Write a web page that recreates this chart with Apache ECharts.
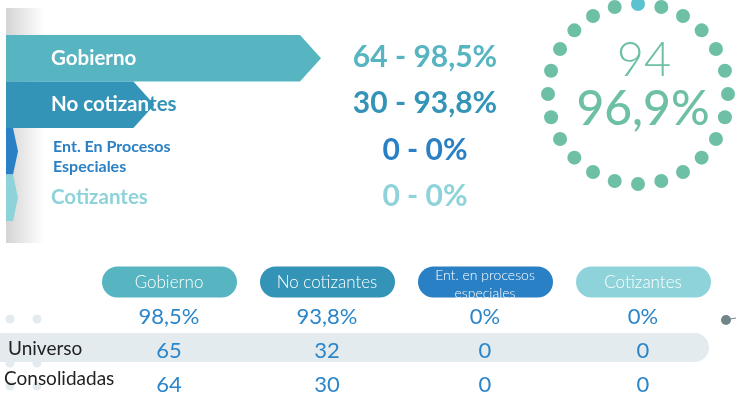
<!DOCTYPE html>
<html>
<head>
    <meta charset="utf-8">
    <title>Consolidación</title>
    <script src="https://cdn.jsdelivr.net/npm/echarts@6/dist/echarts.min.js"></script>
    <style>
        html, body {margin:0;padding:0;background:#fff;}
        #chart {width:736px;height:402px;}
    </style>
</head>
<body>
<div id="chart"></div>
<script>
    // datos
    const cats = ['Gobierno', 'No cotizantes', 'Ent. En Procesos Especiales', 'Cotizantes'];
    const topLabels = ['Gobierno', 'No cotizantes', 'Ent. En Procesos\nEspeciales', 'Cotizantes'];
    const pillLabels = ['Gobierno', 'No cotizantes', 'Ent. en procesos\nespeciales', 'Cotizantes'];
    const universo = [65, 32, 0, 0];
    const consolidadas = [64, 30, 0, 0];
    const porcentaje = [98.5, 93.8, 0, 0];
    const rowLabels = ['Universo', 'Consolidadas'];
    const totalConsolidadas = 94;
    const totalPorcentaje = 96.9;
    const ringDots = 24;
    const colors = ['#56b5c1', '#3394b8', '#2a80c5', '#8fd3da'];

    const FONT = 'Lato, "Noto Sans", sans-serif';
    const fmtPct = v => String(v).replace('.', ',') + '%';

    // cuantas letras caen dentro de la flecha (por el centro de cada letra)
    const measure = document.createElement('canvas').getContext('2d');
    function splitIndex(text, font, edge) {
        measure.font = font;
        for (let k = 0; k < text.length; k++) {
            const a = measure.measureText(text.slice(0, k)).width;
            const b = measure.measureText(text.slice(0, k + 1)).width;
            if ((a + b) / 2 > edge) return k;
        }
        return text.length;
    }

    const chart = echarts.init(document.getElementById('chart'), null, {renderer: 'canvas'});

    //flechas
    function renderArrow(params, api) {
        const v = api.value(0);
        const i = api.value(1);
        const cs = params.coordSys;
        const c = api.coord([v, i]);
        const h = api.size([0, 1])[1];
        const x0 = cs.x;
        const x1 = Math.max(c[0], x0 + 7);
        const tip = v > 0 ? 21 : 5;
        const yT = c[1] - h / 2, yB = c[1] + h / 2;
        const children = [{
            type: 'polygon',
            shape: {points: [[x0, yT], [x1, yT], [x1 + tip, c[1]], [x1, yB], [x0, yB]]},
            style: {fill: colors[i]}
        }];
        const lbl = topLabels[i];
        const tx = x0 + 45;
        if (lbl.indexOf('\n') >= 0) {
            children.push({
                type: 'text', x: tx + 2, y: c[1] + 6,
                style: {text: lbl, fill: colors[i], font: 'bold 16px ' + FONT, lineHeight: 20,
                    align: 'left', verticalAlign: 'middle'}
            });
        } else {
            // blanco dentro de la flecha, color de la barra fuera de ella
            const font = 'bold 20.5px ' + FONT;
            const n = v > 0 ? splitIndex(lbl, font, x1 + tip * 0.75 - tx) : 0;
            children.push({
                type: 'text', x: tx, y: c[1],
                style: {
                    text: (n > 0 ? '{w|' + lbl.slice(0, n) + '}' : '') + (n < lbl.length ? '{c|' + lbl.slice(n) + '}' : ''),
                    align: 'left', verticalAlign: 'middle',
                    rich: {
                        w: {fill: '#fff', font: font},
                        c: {fill: colors[i], font: font}
                    }
                }
            });
        }
        // valor - porcentaje
        children.push({
            type: 'text', x: x0 + 419, y: c[1] - 1,
            style: {text: consolidadas[i] + ' - ' + fmtPct(porcentaje[i]), fill: colors[i],
                font: 'bold 30px ' + FONT, align: 'center', verticalAlign: 'middle'}
        });
        return {type: 'group', children: children};
    }

    // tabla inferior
    const tableData = [];
    for (let r = 0; r < 4; r++) for (let c = 0; c < cats.length; c++) tableData.push([c, r]);

    function renderTable(params, api) {
        const c = api.value(0), r = api.value(1);
        const p = api.coord([c, r]);
        if (r === 0) {
            const two = pillLabels[c].indexOf('\n') >= 0;
            return {
                type: 'group', children: [{
                    type: 'rect',
                    shape: {x: p[0] - 67, y: p[1] - 15.5, width: 135, height: 31, r: 15.5},
                    style: {fill: colors[c]}
                }, {
                    type: 'text', x: p[0], y: p[1] + (two ? 2 : 1),
                    style: {text: pillLabels[c], fill: '#fff', font: (two ? '300 14px ' : '300 17px ') + FONT,
                        lineHeight: 18, align: 'center', verticalAlign: 'middle'}
                }]
            };
        }
        const txt = r === 1 ? fmtPct(porcentaje[c]) : String(r === 2 ? universo[c] : consolidadas[c]);
        return {
            type: 'text', x: p[0], y: p[1] + 1,
            style: {text: txt, fill: '#2b86c9', font: '400 22px ' + FONT, align: 'center', verticalAlign: 'middle'}
        };
    }

    // anillo de puntos
    const ringCats = [];
    const ringData = [];
    for (let k = 0; k < ringDots; k++) {
        ringCats.push(String(k));
        ringData.push({value: [1, k], itemStyle: {color: k === 0 ? '#5cc2d0' : '#6dbfa5'}});
    }

    const option = {
        animation: false,
        grid: [
            {left: 6, top: 35, width: 323.4, height: 186},
            {left: 90, top: 265, width: 632, height: 136}
        ],
        xAxis: [
            {gridIndex: 0, type: 'value', min: 4, max: 70, show: false},
            {gridIndex: 1, type: 'category', data: cats, show: false}
        ],
        yAxis: [
            {gridIndex: 0, type: 'category', data: cats, inverse: true, show: false},
            {gridIndex: 1, type: 'category', data: ['pill', 'pct', 'uni', 'con'], inverse: true, show: false}
        ],
        polar: {center: [638, 94], radius: 90},
        angleAxis: {type: 'category', data: ringCats, boundaryGap: false, startAngle: 90, clockwise: true, show: false},
        radiusAxis: {min: 0, max: 1, show: false},
        graphic: [
            // fondo gris a la izquierda
            {type: 'rect', z: -10, shape: {x: 6, y: 8, width: 38, height: 235},
                style: {fill: new echarts.graphic.LinearGradient(0, 0, 1, 0, [
                    {offset: 0, color: '#d4d4d4'}, {offset: 1, color: '#ffffff'}])}},
            // franja de la fila universo
            {type: 'rect', z: -5, shape: {x: -20, y: 333, width: 729, height: 29, r: 14.5},
                style: {fill: '#e3ebee'}},
            {type: 'circle', z: -6, shape: {cx: 10, cy: 319, r: 4.5}, style: {fill: '#e3ebee'}},
            {type: 'circle', z: -6, shape: {cx: 37, cy: 319, r: 4.5}, style: {fill: '#e3ebee'}},
            {type: 'circle', z: -6, shape: {cx: 10, cy: 363, r: 4.5}, style: {fill: '#e3ebee'}},
            {type: 'circle', z: -6, shape: {cx: 37, cy: 363, r: 4.5}, style: {fill: '#e3ebee'}},
            {type: 'circle', z: -6, shape: {cx: 10, cy: 386, r: 4.5}, style: {fill: '#e3ebee'}},
            {type: 'circle', z: -6, shape: {cx: 37, cy: 386, r: 4.5}, style: {fill: '#e3ebee'}},
            {type: 'circle', z: 5, shape: {cx: 726, cy: 320, r: 5}, style: {fill: '#6f8588'}},
            {type: 'line', z: 5, shape: {x1: 730, y1: 319, x2: 736, y2: 318}, style: {stroke: '#6f8588', lineWidth: 1}},
            // etiquetas de filas
            {type: 'text', z: 10, x: 8, y: 349,
                style: {text: rowLabels[0], fill: '#222', font: '400 19px ' + FONT, verticalAlign: 'middle'}},
            {type: 'text', z: 10, x: 4, y: 379,
                style: {text: rowLabels[1], fill: '#222', font: '400 19px ' + FONT, verticalAlign: 'middle'}},
            // totales dentro del anillo
            {type: 'text', z: 10, x: 644, y: 61,
                style: {text: String(totalConsolidadas), fill: '#6dbfa5', font: '300 47px ' + FONT,
                    align: 'center', verticalAlign: 'middle'}},
            {type: 'text', z: 10, x: 643, y: 110,
                style: {text: fmtPct(totalPorcentaje), fill: '#6dbfa5', font: '500 48px ' + FONT,
                    align: 'center', verticalAlign: 'middle'}}
        ],
        series: [
            {
                type: 'custom', xAxisIndex: 0, yAxisIndex: 0,
                encode: {x: 0, y: 1},
                data: consolidadas.map((v, i) => [v, i]),
                renderItem: renderArrow,
                clip: false
            },
            {
                type: 'custom', xAxisIndex: 1, yAxisIndex: 1,
                encode: {x: 0, y: 1},
                data: tableData,
                renderItem: renderTable,
                clip: false
            },
            {
                type: 'scatter', coordinateSystem: 'polar',
                symbolSize: 14,
                itemStyle: {opacity: 1},
                data: ringData,
                silent: true
            }
        ]
    };
    chart.setOption(option);
    window.onresize = function () { chart.resize() }
</script>
</body>
</html>
